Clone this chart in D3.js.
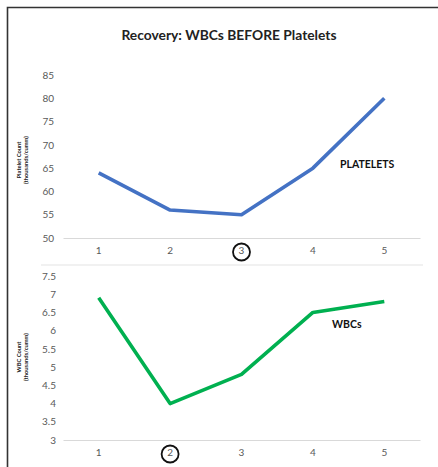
<!DOCTYPE html>
<html>
<head>
<meta charset="utf-8">
<script src="https://cdn.jsdelivr.net/npm/d3@7"></script>
<style>
  html, body { margin: 0; padding: 0; background: #fff; }
  svg { display: block; font-family: Lato, "Open Sans", sans-serif; }
</style>
</head>
<body>
<svg id="chart" width="438" height="467"></svg>
<script>
// Recovery days shared by both panels
const days = [1, 2, 3, 4, 5];

// Platelet count (thousands/cumm)
const platelets = [64, 56, 55, 65, 80];
const plateletTicks = [50, 55, 60, 65, 70, 75, 80, 85];

// WBC count (thousands/cumm)
const wbcs = [6.9, 4.0, 4.8, 6.5, 6.8];
const wbcTicks = [3, 3.5, 4, 4.5, 5, 5.5, 6, 6.5, 7, 7.5];

// Day circled on each panel's axis
const plateletMarkDay = 3;
const wbcMarkDay = 2;

const svg = d3.select("#chart");

// Outer frame (top and left edges)
svg.append("path")
  .attr("d", "M7.5,467 L7.5,7.5 L438,7.5")
  .attr("fill", "none")
  .attr("stroke", "#333")
  .attr("stroke-width", 1.6);

svg.append("text")
  .attr("x", 229).attr("y", 40)
  .attr("text-anchor", "middle")
  .attr("font-size", 13.8)
  .attr("font-weight", 700)
  .attr("fill", "#222")
  .text("Recovery: WBCs BEFORE Platelets");

const x = d3.scaleBand().domain(days).range([63, 420]);

function panel(opts) {
  const g = svg.append("g");
  const y = d3.scaleLinear().domain(opts.domain).range(opts.range);

  // y tick labels
  const yAxis = d3.axisLeft(y).tickValues(opts.ticks).tickSize(0).tickPadding(0)
    .tickFormat(d => String(d));
  const ya = g.append("g").attr("transform", `translate(${opts.labelX},0)`).call(yAxis);
  ya.select(".domain").remove();
  ya.selectAll("text").attr("fill", "#595959").attr("font-size", 10)
    .attr("font-family", "Lato, 'Open Sans', sans-serif");

  // category axis baseline and labels
  const xAxis = d3.axisBottom(x).tickSize(0).tickPadding(9);
  const xa = g.append("g").attr("transform", `translate(0,${opts.range[0]})`).call(xAxis);
  xa.select(".domain").attr("stroke", "#d9d9d9").attr("stroke-width", 1);
  xa.selectAll("text").attr("fill", "#595959").attr("font-size", 10)
    .attr("font-family", "Lato, 'Open Sans', sans-serif");

  // circle around the highlighted day
  g.append("circle")
    .attr("cx", x(opts.markDay) + x.bandwidth() / 2)
    .attr("cy", opts.range[0] + 14)
    .attr("r", 8.5)
    .attr("fill", "none")
    .attr("stroke", "#111")
    .attr("stroke-width", 1.8);

  // series line
  const line = d3.line()
    .x((d, i) => x(days[i]) + x.bandwidth() / 2)
    .y(d => y(d));
  g.append("path")
    .datum(opts.values)
    .attr("d", line)
    .attr("fill", "none")
    .attr("stroke", opts.color)
    .attr("stroke-width", 3.6)
    .attr("stroke-linejoin", "round");

  // series name
  g.append("text")
    .attr("x", opts.nameX).attr("y", opts.nameY)
    .attr("font-size", 10.5).attr("font-weight", 700).attr("fill", "#111")
    .text(opts.name);

  // rotated axis title
  const t = g.append("text")
    .attr("transform", `translate(${opts.titleX},${opts.titleY}) rotate(-90)`)
    .attr("text-anchor", "middle")
    .attr("font-size", 5.8).attr("font-weight", 700).attr("fill", "#222");
  t.append("tspan").attr("x", 0).attr("dy", 0).text(opts.title[0]);
  t.append("tspan").attr("x", 0).attr("dy", 6.5).text(opts.title[1]);
  return g;
}

panel({
  domain: [50, 85], range: [238, 75], ticks: plateletTicks, labelX: 54,
  values: platelets, color: "#4472C4", markDay: plateletMarkDay,
  name: "PLATELETS", nameX: 340, nameY: 168,
  title: ["Platelet Count", "(thousands/cumm)"], titleX: 21, titleY: 160
});

// separator above the lower panel
svg.append("line")
  .attr("x1", 41).attr("x2", 423).attr("y1", 265).attr("y2", 265)
  .attr("stroke", "#ececec").attr("stroke-width", 1.5);

panel({
  domain: [3, 7.5], range: [440, 276], ticks: wbcTicks, labelX: 56,
  values: wbcs, color: "#00B050", markDay: wbcMarkDay,
  name: "WBCs", nameX: 332, nameY: 328,
  title: ["WBC Count", "(thousands/cumm)"], titleX: 21, titleY: 357
});
</script>
</body>
</html>
